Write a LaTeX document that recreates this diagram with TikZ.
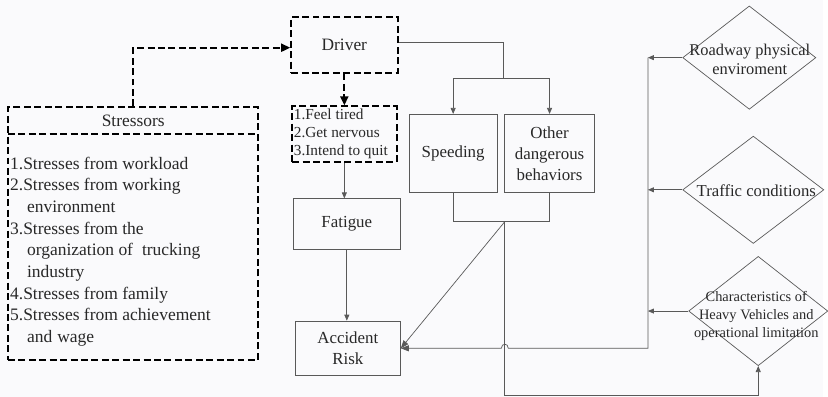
\documentclass[tikz,border=0pt]{standalone}
\usepackage{fontspec}
\setmainfont{Liberation Serif}
\usetikzlibrary{arrows.meta,shapes.geometric}
\definecolor{bgcol}{RGB}{250,250,252}
\definecolor{inkcol}{RGB}{40,40,40}
\begin{document}
\begin{tikzpicture}[x=1pt,y=-1pt,
  txt/.style={font=\fontsize{17}{21.3}\selectfont, text=inkcol},
  thinbox/.style={draw=black!65, line width=0.7pt, inner sep=0pt, txt, align=center},
  dashbox/.style={draw=black, line width=2pt, dash pattern=on 7pt off 3.5pt, inner sep=0pt, txt},
  dashline/.style={draw=black, line width=2pt, dash pattern=on 7pt off 3.5pt},
  dasharrow/.style={dashline, -{Triangle[length=9pt,width=8pt]}},
  thinline/.style={draw=black!65, line width=0.7pt},
  thinarrow/.style={thinline, -{Triangle[length=6pt,width=5pt]}},
  bigarrow/.style={thinline, -{Triangle[length=8pt,width=6pt]}},
  dshape/.style={draw=black!65, line width=0.7pt, shape=diamond, inner sep=0pt}
]
\fill[bgcol] (0,0) rectangle (828,399);

% Driver and Stressors
\node[dashbox, minimum width=107pt, minimum height=56pt, font=\fontsize{17.5}{21}\selectfont] (driver) at (346.5,45) {Driver};
\node[dashbox, minimum width=252pt, minimum height=254pt] (stressbox) at (134,235) {};
\node[txt, font=\fontsize{17.5}{21}\selectfont] (stresshead) at (134,122) {Stressors};
\coordinate (hdl) at (8,135);
\coordinate (hdr) at (260,135);
\draw[dashline] (hdl) -- (hdr);
\node[txt, align=left, anchor=north west, inner sep=0pt, font=\fontsize{17.6}{21.8}\selectfont] (stresslist) at (10,157.5) {%
1.Stresses from workload\\
2.Stresses from working\\
\hspace*{17pt}environment\\
3.Stresses from the\\
\hspace*{17pt}organization of\hspace{9pt}trucking\\
\hspace*{17pt}industry\\
4.Stresses from family\\
5.Stresses from achievement\\
\hspace*{17pt}and\hspace{5pt}wage};

% Feel tired box
\node[dashbox, minimum width=105pt, minimum height=56pt] (feel) at (346.5,135) {};
\node[txt, align=left, anchor=west, inner sep=0pt, font=\fontsize{15.4}{18}\selectfont] (feeltxt) at (295.5,135) {1.Feel tired\\2.Get nervous\\3.Intend to quit};

% Thin boxes
\node[thinbox, minimum width=108pt, minimum height=51pt] (fatigue) at (349,225.5) {Fatigue};
\node[thinbox, minimum width=106pt, minimum height=55pt] (accident) at (350,350.5) {Accident\\Risk};
\node[thinbox, minimum width=88pt, minimum height=79pt] (speed) at (456,154.5) {Speeding};
\node[thinbox, minimum width=90pt, minimum height=79pt] (other) at (553,154.5) {Other\\dangerous\\behaviors};

% Diamonds
\node[dshape, minimum width=134pt, minimum height=104pt] (road) at (754,58) {};
\node[txt, align=center, font=\fontsize{16.5}{19}\selectfont] (roadtxt) at (754.5,60) {Roadway physical\\enviroment};
\node[dshape, minimum width=142pt, minimum height=108pt] (traffic) at (758,191) {};
\node[txt, font=\fontsize{16.8}{19}\selectfont] (traffictxt) at (761,192) {Traffic conditions};
\node[dshape, minimum width=140pt, minimum height=110pt] (heavy) at (763,313) {};
\node[txt, align=center, font=\fontsize{14.5}{18.5}\selectfont] (heavytxt) at (761,318) {Characteristics of\\Heavy Vehicles and\\operational limitation};

% Connectors
\draw[dasharrow] (stressbox.north) |- ([yshift=-3pt]driver.west);
\draw[dasharrow] (driver.south) -- (feel.north);
\draw[thinarrow] (feel.south) -- (feel.south |- fatigue.north);
\draw[thinarrow] (fatigue.south) -- (fatigue.south |- accident.north);

\coordinate (split) at (507,79);
\draw[thinline] ([yshift=2pt]driver.east) -| (split);
\draw[thinline] (speed.north |- split) -- (other.north |- split);
\draw[thinarrow] (speed.north |- split) -- (speed.north);
\draw[thinarrow] (other.north |- split) -- (other.north);

\coordinate (jn) at (508,223);
\draw[thinline] (speed.south) -- (speed.south |- jn) -- (other.south |- jn) -- (other.south);
\draw[bigarrow] (jn) -- (accident.east);
\coordinate (bot) at (508,398);
\draw[thinarrow] (jn) -- (bot) -| (heavy.south);

\coordinate (bustop) at (652,58);
\coordinate (busbot) at (652,350.5);
\coordinate (hopR) at (511.5,350.5);
\coordinate (hopL) at (504.5,350.5);
\draw[bigarrow] (bustop) -- (busbot) -- (hopR) .. controls (511.5,345) and (504.5,345) .. (hopL) -- (accident.east);

\draw[thinarrow] (road.west) -- (road.west -| bustop);
\draw[thinarrow] (traffic.west) -- (traffic.west -| bustop);
\draw[thinarrow] (heavy.west) -- (heavy.west -| bustop);
\end{tikzpicture}
\end{document}
